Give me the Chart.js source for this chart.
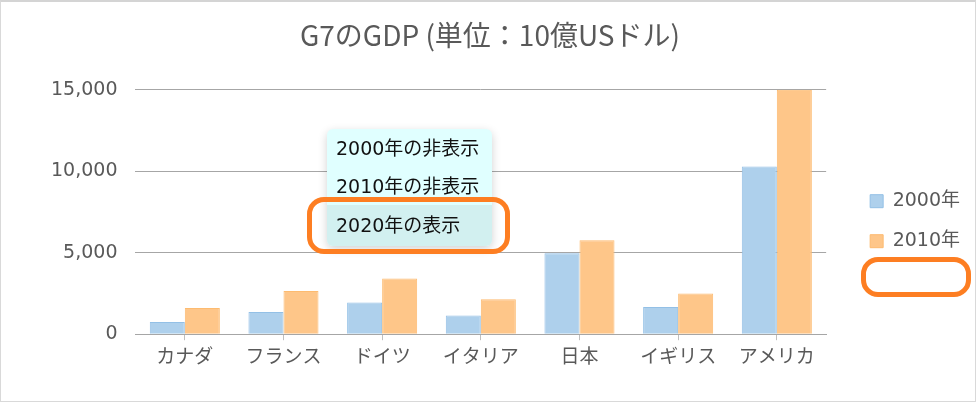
<!DOCTYPE html>
<html>
<head>
<meta charset="utf-8">
<script src="https://cdn.jsdelivr.net/npm/chart.js"></script>
<style>
  html, body { margin: 0; padding: 0; background: #fff; }
  #wrap { position: relative; width: 976px; height: 402px; box-sizing: border-box; border: 1px solid #d9d9d9; border-top: 2px solid #d4d4d4; }
  #chart { display: block; }
  .menu { position: absolute; left: 326px; top: 127px; width: 165px; background: #e0ffff; border-radius: 6px; box-shadow: 0 3px 10px rgba(0,0,0,0.18); font-family: "DejaVu Sans", "Noto Sans CJK JP", sans-serif; font-size: 19px; color: #111; }
  .menu div { height: 38px; line-height: 38px; padding-left: 9px; }
  .menu .sel { height: 41px; line-height: 41px; background: #d2f0f0; border-radius: 0 0 6px 6px; }
  .ring { position: absolute; border: 5px solid #fd7e22; border-radius: 17px; box-sizing: border-box; }
</style>
</head>
<body>
<div id="wrap">
  <canvas id="chart" width="974" height="399"></canvas>
  <div class="menu">
    <div>2000年の非表示</div>
    <div>2010年の非表示</div>
    <div class="sel">2020年の表示</div>
  </div>
  <div class="ring" style="left:306px; top:195px; width:203px; height:57px;"></div>
  <div class="ring" style="left:860px; top:255px; width:110px; height:40px;"></div>
</div>
<script>
// G7 GDP (billion USD)
const countries = ['カナダ', 'フランス', 'ドイツ', 'イタリア', '日本', 'イギリス', 'アメリカ'];
const gdp2000 = [742, 1362, 1950, 1144, 4968, 1666, 10285];
const gdp2010 = [1614, 2643, 3417, 2137, 5759, 2491, 14992];
const seriesNames = ['2000年', '2010年'];

const fontFamily = '"DejaVu Sans", "Noto Sans CJK JP", sans-serif';
const textColor = '#595959';

// move the legend a bit to the right, leaving the plot area where it is
const legendShift = {
    id: 'legendShift',
    afterLayout(chart) {
        chart.legend.left += 23;
        chart.legend.right += 23;
    }
};

const ctx = document.getElementById('chart').getContext('2d');
new Chart(ctx, {
    type: 'bar',
    data: {
        labels: countries,
        datasets: [{
            label: seriesNames[0],
            data: gdp2000,
            backgroundColor: '#aed0ec',
            borderColor: '#93c0e6',
            borderWidth: 1
        }, {
            label: seriesNames[1],
            data: gdp2010,
            backgroundColor: '#fec689',
            borderColor: '#fdbb70',
            borderWidth: 1
        }]
    },
    plugins: [legendShift],
    options: {
        responsive: false,
        animation: false,
        categoryPercentage: 0.71,
        barPercentage: 1.0,
        layout: {
            padding: { left: 32, right: 28, bottom: 26 }
        },
        plugins: {
            title: {
                display: true,
                text: 'G7のGDP (単位：10億USドル)',
                color: textColor,
                font: { family: '"Noto Sans CJK JP", sans-serif', size: 28, weight: 'normal' },
                padding: { top: 17, bottom: 37 }
            },
            legend: {
                position: 'right',
                // empty title just pushes the two entries down (slot of the hidden 2020 series below)
                title: { display: true, text: '', padding: { top: 0, bottom: 51 } },
                labels: {
                    color: textColor,
                    font: { family: fontFamily, size: 19 },
                    boxWidth: 13,
                    boxHeight: 13,
                    padding: 21
                }
            },
            tooltip: { enabled: false }
        },
        scales: {
            x: {
                grid: { display: true, drawOnChartArea: false, offset: false, color: '#bfbfbf', tickLength: 6 },
                border: { color: '#a6a6a6' },
                ticks: { color: textColor, font: { family: fontFamily, size: 19 }, padding: 6 }
            },
            y: {
                min: 0,
                max: 15000,
                grid: { color: '#a6a6a6', drawTicks: false },
                border: { display: false },
                ticks: {
                    stepSize: 5000,
                    color: textColor,
                    padding: 18,
                    font: { family: fontFamily, size: 19 },
                    callback: function(value) {
                        return value.toLocaleString('en-US');
                    }
                }
            }
        }
    }
});
</script>
</body>
</html>
